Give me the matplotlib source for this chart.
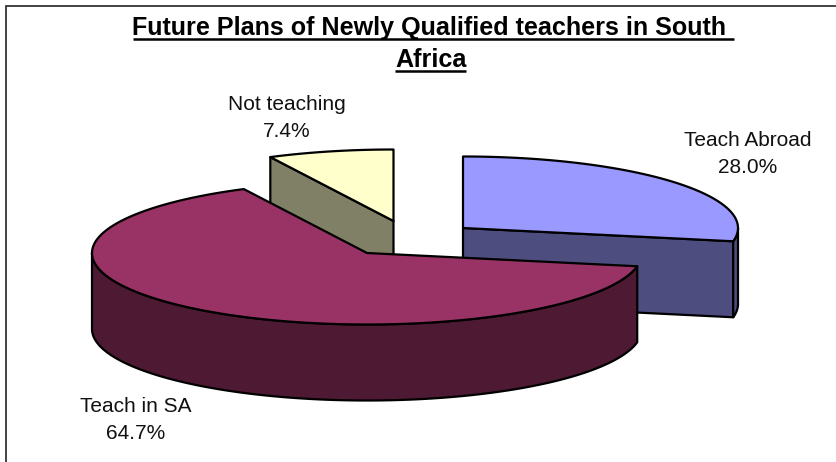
import numpy as np
import matplotlib
matplotlib.use('Agg')
import matplotlib.pyplot as plt
from matplotlib.patches import Polygon, Rectangle

plt.rcParams['font.family'] = ['Liberation Sans', 'DejaVu Sans']

#%%
# datos
categorias = ['Teach Abroad', 'Teach in SA', 'Not teaching']
etiquetas = ['28.0%', '64.7%', '7.4%']
valores = [28.0, 64.7, 7.4]
titulo = ['Future Plans of Newly Qualified teachers in South ', 'Africa']

colores_top = ['#9999FF', '#993366', '#FFFFCC']
colores_lado = ['#4D4D80', '#4D1933', '#808066']

#%%
# geometria en pixeles de la figura
W, H = 836, 462
RX, RY, PROF = 275, 71.5, 76
centros = [(463, 228), (367, 253), (393.5, 221)]

fig = plt.figure(figsize=(W / 100, H / 100), dpi=100)
ax = fig.add_axes([0, 0, 1, 1])
ax.set_xlim(0, W)
ax.set_ylim(H, 0)
ax.axis('off')

# el marco sigue fuera de la imagen a la derecha y abajo
ax.add_patch(Rectangle((5.5, 6), 900, 500, fc='white', ec='#222222', lw=1.2))


def arco(c, a0, a1, n=200):
    # angulos en grados, desde las 12 en sentido horario
    a = np.radians(np.linspace(a0, a1, n))
    return np.column_stack([c[0] + RX * np.sin(a), c[1] - RY * np.cos(a)])


def cara(pts, color, z):
    ax.add_patch(Polygon(pts, closed=True, fc=color, ec='black', lw=1.6, joinstyle='round', zorder=z))


total = sum(valores)
bordes = np.concatenate([[0], np.cumsum(valores) / total * 360])
abajo = np.array([0, PROF])

# orden de dibujo: amarillo, azul, rojo
for z, i in enumerate([2, 0, 1]):
    c = np.array(centros[i], dtype=float)
    a0, a1 = bordes[i], bordes[i + 1]
    borde = arco(c, a0, a1)

    # paredes interiores (las que se ven desde adelante)
    p_ini, p_fin = borde[0], borde[-1]
    if i == 2:
        cara([p_ini, c, c + abajo, p_ini + abajo], colores_lado[i], 3 * z + 1)
    if i == 0:
        cara([c, p_fin, p_fin + abajo, c + abajo], colores_lado[i], 3 * z + 1)

    # pared exterior: la parte del arco que mira al frente
    lo, hi = max(a0, 90), min(a1, 270)
    if lo < hi:
        frente = arco(c, lo, hi)
        cara(np.vstack([frente, (frente + abajo)[::-1]]), colores_lado[i], 3 * z + 1)

    # tapa
    cara(np.vstack([c, borde]), colores_top[i], 3 * z + 2)

#%%
# titulo subrayado
titulo_x = [433, 430.7]
titulo_y = [35.5, 67]
for txt, x, y in zip(titulo, titulo_x, titulo_y):
    t = ax.text(x, y, txt, ha='center', va='baseline', fontsize=18.1, fontweight='bold', color='black', zorder=20)
    bb = t.get_window_extent(fig.canvas.get_renderer())
    ax.plot([bb.x0, bb.x1], [y + 3.5, y + 3.5], color='black', lw=1.8, solid_capstyle='butt', zorder=20)

#%%
# etiquetas
pos_etiquetas = [(748, 146), (136, 412), (286.5, 110)]
for nombre, pct, (x, y) in zip(categorias, etiquetas, pos_etiquetas):
    ax.text(x, y, nombre, ha='center', va='baseline', fontsize=15, color='#111111', zorder=20)
    ax.text(x, y + 27, pct, ha='center', va='baseline', fontsize=15, color='#111111', zorder=20)

fig.savefig('out.png', dpi=100)
